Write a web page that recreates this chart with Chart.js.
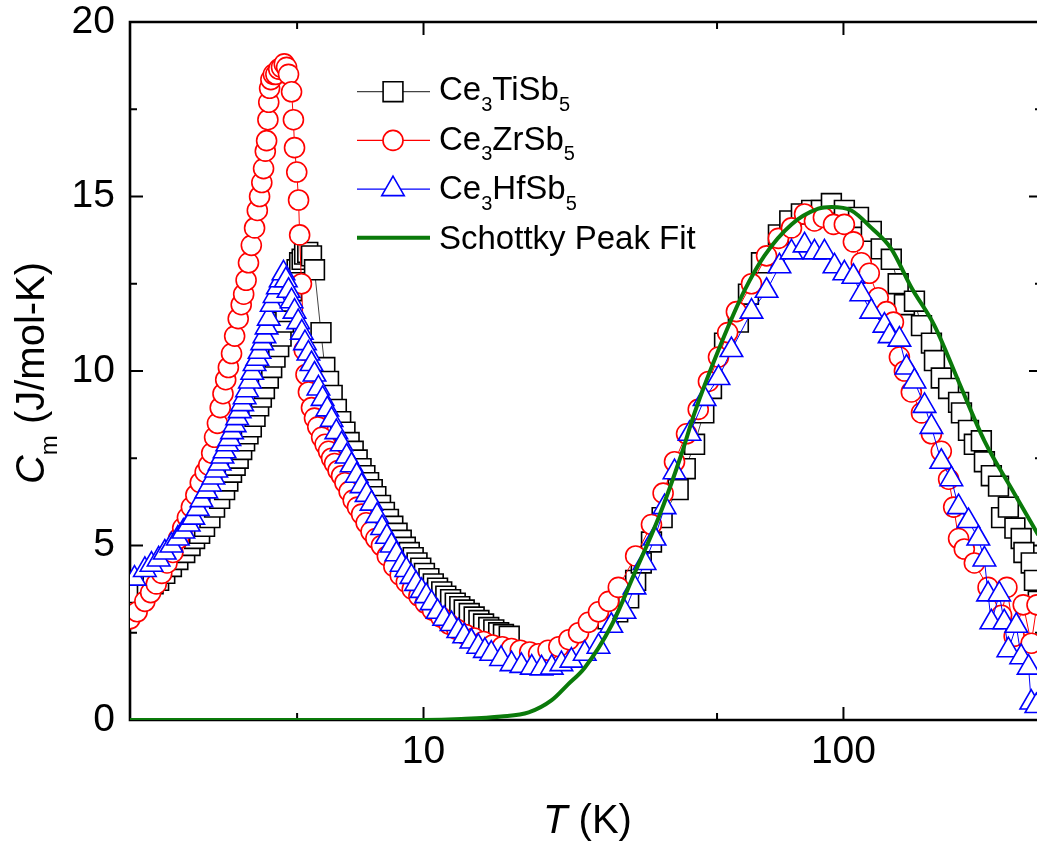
<!DOCTYPE html>
<html>
<head>
<meta charset="utf-8">
<script src="https://cdn.jsdelivr.net/npm/chart.js@4.4.1/dist/chart.umd.min.js"></script>
<style>
  html, body { margin: 0; padding: 0; background: #fff; overflow: hidden; }
  canvas { display: block; }
</style>
</head>
<body>
<canvas id="cm-chart" width="1037" height="846"></canvas>
<script>
// Ce3TiSb5 (null = gap in the measured data)
const tiT = [
  2.02,2.1,2.2,2.27,2.34,2.42,2.51,2.6,2.7,2.78,
  2.85,2.93,3.01,3.1,3.18,3.27,3.36,3.42,3.49,3.56,
  3.62,3.69,3.75,3.82,3.89,3.97,4.05,4.11,4.18,4.27,
  4.35,4.43,4.52,4.58,4.64,4.7,4.77,4.85,4.93,5.0,
  5.07,5.14,5.21,5.3,5.41,5.5,
  5.7,5.82,5.94,6.06,6.2,6.35,6.5,6.65,6.8,6.95,
  7.1,7.25,7.4,7.55,7.7,7.9,8.07,8.25,8.45,8.65,
  8.85,9.05,9.25,9.45,9.65,9.85,10.05,10.3,10.55,10.8,
  11.05,11.3,11.6,11.9,12.2,12.5,12.85,13.2,13.55,13.9,
  14.3,14.7,15.1,15.5,16.0,
  20,
  27.5,29.0,30.8,32.0,33.0,34.9,37.0,40.4,42.0,44.2,
  46.5,48.5,52.1,56.2,59.4,63.8,70.0,74.5,79.4,84,
  88.6,93.6,100.5,108.6,116.5,123,130,135,139.7,147.6,
  153.4,162,164.7,171,178,188,191,198.5,205,213,
  216.6,225,234,238,247,256,265,269,280,285,
  291
];
const tiC = [
  3.55,3.65,3.75,3.9,4.0,4.2,4.4,4.6,4.8,5.0,
  5.2,5.35,5.55,5.8,6.1,6.35,6.6,6.85,7.1,7.3,
  7.5,7.75,8.0,8.2,8.4,8.7,9.0,9.25,9.5,9.8,
  10.1,10.4,10.7,11.0,11.4,11.7,12.0,12.3,12.6,12.9,
  13.1,13.2,13.35,13.4,13.3,12.9,
  11.1,10.1,9.7,9.3,8.9,8.55,8.25,7.95,7.7,7.45,
  7.2,7.0,6.8,6.6,6.4,6.15,5.95,5.75,5.55,5.35,
  5.15,4.95,4.8,4.65,4.5,4.35,4.2,4.05,3.9,3.78,
  3.67,3.55,3.45,3.35,3.25,3.15,3.05,2.95,2.85,2.75,
  2.65,2.58,2.5,2.45,2.4,
  null,
  2.9,3.1,3.5,4.0,4.5,5.1,5.8,6.6,7.2,7.9,
  8.8,9.5,10.8,11.4,12.2,13.1,13.9,14.3,14.5,14.6,
  14.6,14.8,14.6,14.4,14.0,13.5,13.2,12.5,11.9,12.0,
  11.3,10.8,10.3,9.8,9.5,9.1,8.8,8.3,7.9,8.0,
  7.4,7.0,6.7,5.8,6.1,5.5,5.2,4.8,4.5,4.0,
  3.4
];

// Ce3ZrSb5
const zrT = [
  2.0,2.08,2.17,2.24,2.31,2.38,2.45,2.53,2.61,2.67,
  2.74,2.8,2.87,2.94,3.02,3.08,3.13,3.18,3.23,3.28,
  3.33,3.38,3.43,3.49,3.55,3.62,3.68,3.73,3.78,3.83,
  3.89,3.96,4.02,4.07,4.12,4.16,4.2,4.23,4.26,4.28,
  4.3,4.33,4.39,4.45,4.52,4.59,4.66,4.72,4.77,4.85,
  4.9,4.93,4.99,5.04,5.07,5.12,
  5.2,5.25,5.32,5.41,5.5,5.6,5.72,5.83,5.94,6.04,
  6.14,6.26,6.38,6.5,6.65,6.8,6.96,7.12,7.3,7.5,
  7.7,7.94,8.2,8.5,8.8,9.1,9.4,9.75,10.1,10.5,
  11.0,11.5,12.0,12.6,13.2,13.9,14.6,15.4,16.2,17.0,
  17.9,18.8,19.8,21.0,22.2,23.4,24.7,26.1,27.6,29.1,
  32.0,34.9,37.2,39.6,42.3,45.1,47.7,50.4,53.0,55.6,
  60.4,65.6,70.0,75.2,80.8,85.3,89.6,94.7,100.5,105.6,
  110.3,115.2,121,126.6,131.5,135.9,139.7,145.1,153.4,162,
  171,178,183,188,194,205,221,238,245,255,
  268,280,289
];
const zrC = [
  2.9,3.1,3.4,3.65,3.9,4.2,4.5,4.8,5.2,5.5,
  5.8,6.1,6.45,6.8,7.1,7.3,7.65,8.1,8.5,8.95,
  9.35,9.75,10.1,10.5,11.0,11.5,11.9,12.2,12.6,13.1,
  13.6,14.1,14.6,15.0,15.4,15.8,16.3,16.6,17.2,17.7,
  18.1,18.35,18.5,18.5,18.65,18.7,18.8,18.7,18.5,18.0,
  17.2,16.4,15.7,14.9,13.9,12.5,
  10.6,9.9,9.4,8.95,8.65,8.4,8.1,7.9,7.7,7.5,
  7.35,7.15,7.0,6.8,6.55,6.3,6.1,5.9,5.65,5.4,
  5.2,5.0,4.7,4.4,4.15,3.95,3.75,3.55,3.35,3.15,
  2.95,2.75,2.6,2.45,2.35,2.25,2.15,2.1,2.05,2.0,
  1.95,1.9,2.0,2.1,2.3,2.5,2.8,3.1,3.4,3.8,
  4.7,5.6,6.5,7.4,8.2,8.9,9.7,10.4,11.1,11.7,
  12.5,13.3,13.8,14.1,14.5,14.3,14.4,14.2,14.2,13.7,
  13.1,12.8,12.1,11.7,11.4,10.4,10.0,9.4,8.8,8.2,
  7.7,6.9,6.1,5.2,4.9,4.5,3.8,3.0,3.8,2.4,
  3.3,2.2,3.3
];

// Ce3HfSb5
const hfT = [
  2.05,2.17,2.25,2.34,2.42,2.51,2.6,2.68,2.76,2.83,
  2.9,2.96,3.04,3.1,3.16,3.21,3.27,3.32,3.36,3.41,
  3.45,3.5,3.55,3.6,3.65,3.7,3.75,3.8,3.86,3.91,
  3.96,4.02,4.07,4.13,4.18,4.23,4.28,4.35,4.42,4.5,
  4.57,4.64,4.7,4.77,4.85,4.93,5.03,5.13,5.22,5.32,
  5.41,5.5,5.62,5.75,5.9,6.04,6.2,6.38,6.56,6.74,
  6.93,7.12,7.32,7.52,7.75,7.97,8.18,8.39,8.62,8.87,
  9.1,9.36,9.6,9.9,10.15,10.45,10.8,11.2,11.66,12.1,
  12.5,13.0,13.5,14.0,14.5,15.3,16.2,17.1,18.1,19.1,
  20.2,21.3,22.5,24.2,26.1,28.0,30.1,31.8,33.6,35.5,
  37.5,39.6,43.0,46.7,50.4,54.1,60.4,65.6,70.4,75.2,
  80.8,85.3,90.1,95.2,100.5,105.6,110.3,116.5,125.2,128.8,
  135.9,141.3,147.6,156,162,171,180.7,188,198.5,209.5,
  216.6,221,225,235,241.5,247,258,265,276,280,
  288
];
const hfC = [
  4.05,4.3,4.45,4.6,4.8,5.0,5.2,5.4,5.6,5.8,
  6.05,6.3,6.55,6.75,6.95,7.15,7.35,7.55,7.7,7.9,
  8.05,8.25,8.45,8.65,8.85,9.05,9.25,9.45,9.7,9.95,
  10.2,10.35,10.55,10.8,11.0,11.25,11.5,11.9,12.15,12.4,
  12.6,12.8,12.6,12.3,12.0,11.7,11.4,11.1,10.8,10.5,
  10.2,9.9,9.5,9.2,8.9,8.6,8.25,7.9,7.55,7.3,
  7.0,6.7,6.45,6.2,5.85,5.5,5.25,5.0,4.75,4.45,
  4.3,4.1,3.9,3.7,3.55,3.35,3.1,2.9,2.75,2.55,
  2.4,2.25,2.1,1.98,1.9,1.75,1.6,1.55,1.5,1.48,
  1.5,1.6,1.7,1.9,2.1,2.7,3.1,3.8,4.5,5.2,
  6.1,7.1,8.2,9.2,9.8,10.6,11.7,12.3,13.0,13.4,
  13.6,13.4,13.4,13.0,12.8,12.7,12.2,11.7,11.3,11.0,
  10.9,10.1,9.7,9.0,8.4,7.4,6.9,6.1,5.7,5.2,
  4.6,3.6,2.8,3.6,2.8,2.0,2.7,1.8,1.5,0.5,
  0.4
];

// Schottky peak fit
const fitT = [2,6,10,12.3,15.3,17.8,20.2,22.0,24.2,28.0,31.8,36.3,41.1,44.2,50.4,58.1,64.8,75.2,87.1,93.6,104.4,116.6,130,145,164.7,188,216.6,255,291];
const fitC = [0,0,0.003,0.03,0.1,0.22,0.57,1.0,1.5,2.7,4.2,5.8,7.6,8.8,10.6,12.3,13.3,14.2,14.65,14.7,14.6,14.1,13.5,12.4,11.3,9.7,8.0,6.5,5.3];

const xLabelTicks = [10, 100];
const xMinorTicks = [5, 50];
const yMajorTicks = [0, 5, 10, 15, 20];
const yMinorTicks = [2.5, 7.5, 12.5, 17.5];

// label parts: [text, style]  style: '' normal, 'i' italic, 's' subscript
const seriesLabels = [
  [['Ce', ''], ['3', 's'], ['TiSb', ''], ['5', 's']],
  [['Ce', ''], ['3', 's'], ['ZrSb', ''], ['5', 's']],
  [['Ce', ''], ['3', 's'], ['HfSb', ''], ['5', 's']],
  [['Schottky Peak Fit', '']]
];
const xTitle = [['T', 'i'], [' (K)', '']];
const yTitle = [['C', 'i'], ['m', 's'], [' (J/mol-K)', '']];

const FONT = '"Liberation Sans", Arial, Helvetica, sans-serif';
Chart.defaults.font.family = FONT;
Chart.defaults.color = '#000';

const toPoints = (ts, cs) => ts.map((t, i) => ({ x: t, y: cs[i] }));

const styles = [
  { color: '#000000', line: '#444444', pointStyle: 'rect', radius: 14 },
  { color: '#ff0000', line: '#ff0000', pointStyle: 'circle', radius: 10 },
  { color: '#0000ff', line: '#0000ff', pointStyle: 'triangle', radius: 13 },
  { color: '#0a7a0a', line: '#0a7a0a' }
];

function drawRich(ctx, parts, x, y, size, align) {
  const subSize = Math.round(size * 0.6);
  const fontOf = s => (s === 'i' ? 'italic ' : '') + (s === 's' ? subSize : size) + 'px ' + FONT;
  let w = 0;
  parts.forEach(([t, s]) => { ctx.font = fontOf(s); w += ctx.measureText(t).width; });
  let cx = align === 'center' ? x - w / 2 : x;
  ctx.textAlign = 'left';
  ctx.textBaseline = 'alphabetic';
  parts.forEach(([t, s]) => {
    ctx.font = fontOf(s);
    ctx.fillText(t, cx, s === 's' ? y + size * 0.33 : y);
    cx += ctx.measureText(t).width;
  });
}

function drawMarker(ctx, st, x, y) {
  ctx.beginPath();
  if (st.pointStyle === 'rect') {
    const h = st.radius * Math.SQRT1_2;
    ctx.rect(x - h, y - h, 2 * h, 2 * h);
  } else if (st.pointStyle === 'circle') {
    ctx.arc(x, y, st.radius, 0, Math.PI * 2);
  } else {
    const r = st.radius;
    ctx.moveTo(x, y - r);
    ctx.lineTo(x + r * Math.sin(2 * Math.PI / 3), y - r * Math.cos(2 * Math.PI / 3));
    ctx.lineTo(x + r * Math.sin(4 * Math.PI / 3), y - r * Math.cos(4 * Math.PI / 3));
    ctx.closePath();
  }
  ctx.fillStyle = '#fff';
  ctx.fill();
  ctx.strokeStyle = st.color;
  ctx.lineWidth = 1.6;
  ctx.stroke();
}

const axisFrame = {
  id: 'axisFrame',
  beforeDatasetsDraw(chart) {
    const { ctx, chartArea: a, scales: { x, y } } = chart;
    const rightAxis = a.right + 5;
    ctx.save();
    ctx.strokeStyle = '#000';
    ctx.lineWidth = 2.6;
    ctx.beginPath();
    ctx.moveTo(a.left, a.top); ctx.lineTo(a.right, a.top);
    ctx.moveTo(a.left, a.top - 1.3); ctx.lineTo(a.left, a.bottom + 1.3);
    ctx.moveTo(a.left, a.bottom); ctx.lineTo(a.right, a.bottom);
    ctx.stroke();
    ctx.lineWidth = 2;
    ctx.beginPath();
    const tick = (x0, y0, x1, y1) => { ctx.moveTo(x0, y0); ctx.lineTo(x1, y1); };
    xLabelTicks.forEach(v => { const p = x.getPixelForValue(v); tick(p, a.bottom, p, a.bottom - 13); tick(p, a.top, p, a.top + 13); });
    xMinorTicks.forEach(v => { const p = x.getPixelForValue(v); tick(p, a.bottom, p, a.bottom - 7); tick(p, a.top, p, a.top + 7); });
    yMajorTicks.forEach(v => { const p = y.getPixelForValue(v); tick(a.left, p, a.left + 13, p); tick(rightAxis, p, rightAxis - 13, p); });
    yMinorTicks.forEach(v => { const p = y.getPixelForValue(v); tick(a.left, p, a.left + 7, p); tick(rightAxis, p, rightAxis - 7, p); });
    ctx.stroke();
    ctx.restore();
  },
  afterDraw(chart) {
    const { ctx, chartArea: a } = chart;
    ctx.save();
    ctx.fillStyle = '#000';
    // axis titles
    drawRich(ctx, xTitle, (a.left + a.right) / 2 + 4, 833, 40, 'center');
    ctx.save();
    ctx.translate(44, (a.top + a.bottom) / 2 + 2);
    ctx.rotate(-Math.PI / 2);
    drawRich(ctx, yTitle, 0, 0, 40, 'center');
    ctx.restore();
    // legend
    seriesLabels.forEach((parts, i) => {
      const st = styles[i];
      const ly = 91.7 + i * 48.7;
      ctx.beginPath();
      ctx.moveTo(357, ly); ctx.lineTo(430, ly);
      ctx.strokeStyle = st.line;
      ctx.lineWidth = i === 3 ? 4 : 1.2;
      ctx.stroke();
      if (st.pointStyle) drawMarker(ctx, st, 393, ly);
      ctx.fillStyle = '#000';
      drawRich(ctx, parts, 439, 100 + i * 49.6, 33, 'left');
    });
    ctx.restore();
  }
};

const seriesData = [toPoints(tiT, tiC), toPoints(zrT, zrC), toPoints(hfT, hfC)];
const drawOrder = [3, 2, 1];

const datasets = seriesData.map((pts, i) => ({
  data: pts,
  showLine: true,
  spanGaps: false,
  borderColor: styles[i].line,
  borderWidth: 1,
  pointStyle: styles[i].pointStyle,
  pointRadius: styles[i].radius,
  pointBorderColor: styles[i].color,
  pointBackgroundColor: '#ffffff',
  pointBorderWidth: 1.6,
  clip: 0,
  order: drawOrder[i]
}));
datasets.push({
  data: toPoints(fitT, fitC),
  showLine: true,
  borderColor: styles[3].color,
  borderWidth: 4,
  pointRadius: 0,
  cubicInterpolationMode: 'monotone',
  clip: 0,
  order: 0
});

const cmCtx = document.getElementById('cm-chart').getContext('2d');
const cmChart = new Chart(cmCtx, {
  type: 'scatter',
  data: { datasets },
  options: {
    responsive: false,
    animation: false,
    devicePixelRatio: 1,
    layout: { autoPadding: false, padding: { top: 22, right: 0, left: 0, bottom: 0 } },
    plugins: { legend: { display: false }, tooltip: { enabled: false } },
    scales: {
      x: {
        type: 'logarithmic',
        min: 2,
        max: 289,
        grid: { display: false, drawTicks: false },
        border: { display: false },
        afterBuildTicks: s => { s.ticks = xLabelTicks.map(v => ({ value: v })); },
        afterFit: s => { s.height = 126; s.paddingLeft = 0; s.paddingRight = 0; },
        ticks: {
          font: { size: 39, lineHeight: 1 },
          color: '#000',
          padding: 13,
          maxRotation: 0,
          autoSkip: false,
          callback: v => String(v)
        }
      },
      y: {
        min: 0,
        max: 20,
        grid: { display: false, drawTicks: false },
        border: { display: false },
        afterBuildTicks: s => { s.ticks = yMajorTicks.map(v => ({ value: v })); },
        afterFit: s => { s.width = 130; s.paddingTop = 0; s.paddingBottom = 0; },
        ticks: {
          font: { size: 39, lineHeight: 1 },
          color: '#000',
          padding: 15,
          callback: v => String(v)
        }
      }
    }
  },
  plugins: [axisFrame]
});
</script>
</body>
</html>
